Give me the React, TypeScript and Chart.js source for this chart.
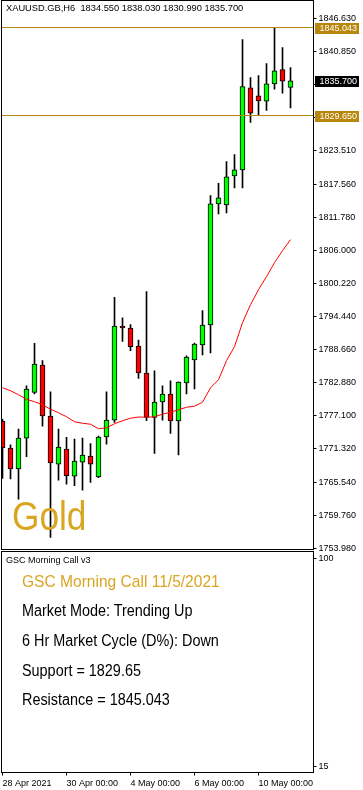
import React, { useEffect, useRef } from "react";
import { Chart, registerables } from "chart.js";

Chart.register(...registerables);

// ---------- data ----------
const symbolHeader = "XAUUSD.GB,H6  1834.550 1838.030 1830.990 1835.700";

// H6 candles, oldest first
const opens = [
  1776.14, 1771.48, 1767.81, 1773.23, 1781.21, 1786.01, 1777.08, 1768.68, 1771.31, 1766.58,
  1769.03, 1770.08, 1766.41, 1773.41, 1776.38, 1792.83, 1792.48, 1789.33, 1784.61, 1776.84,
  1779.53, 1780.93, 1776.21, 1782.86, 1786.88, 1789.51, 1793.01, 1814.18, 1814.01, 1819.08,
  1820.13, 1834.48, 1833.08, 1832.14, 1835.18, 1837.68, 1834.55,
];
const highs = [
  1776.5, 1772.06, 1774.81, 1782.38, 1789.78, 1786.76, 1781.33, 1774.81, 1773.34, 1773.06,
  1773.23, 1772.28, 1773.58, 1781.33, 1797.84, 1794.28, 1793.06, 1790.38, 1798.83, 1785.01,
  1782.38, 1783.26, 1783.08, 1787.63, 1789.86, 1795.51, 1815.63, 1817.79, 1821.58, 1822.81,
  1842.93, 1836.28, 1836.63, 1838.73, 1845.04, 1841.53, 1838.03,
];
const lows = [
  1766.16, 1766.06, 1762.56, 1769.96, 1780.93, 1775.33, 1755.84, 1765.88, 1765.18, 1764.88,
  1764.13, 1765.46, 1766.28, 1772.18, 1775.96, 1790.14, 1788.51, 1783.66, 1776.26, 1770.54,
  1776.38, 1774.04, 1770.26, 1780.93, 1781.81, 1787.76, 1788.11, 1812.43, 1812.61, 1816.98,
  1816.98, 1828.46, 1829.65, 1830.56, 1834.24, 1833.54, 1830.99,
];
const closes = [
  1771.53, 1767.81, 1773.23, 1781.81, 1786.18, 1777.08, 1768.86, 1771.66, 1766.63, 1769.21,
  1770.26, 1768.68, 1773.41, 1776.38, 1792.83, 1792.48, 1789.21, 1784.61, 1776.84, 1779.53,
  1780.93, 1776.21, 1783.03, 1787.41, 1789.68, 1793.01, 1814.18, 1815.23, 1818.91, 1820.13,
  1834.71, 1830.04, 1832.21, 1835.18, 1837.46, 1835.64, 1835.70,
];
// red moving average
const maValues = [
  1782.03, 1781.51, 1780.81, 1780.02, 1779.58, 1779.06, 1778.27, 1777.66, 1776.96, 1776.08,
  1775.82, 1775.65, 1774.86, 1775.03, 1775.73, 1776.26, 1776.70, 1776.91, 1776.87, 1776.96,
  1777.40, 1777.75, 1778.18, 1778.62, 1778.80, 1779.50, 1782.03, 1783.43, 1786.76, 1789.21,
  1793.41, 1796.56, 1799.18, 1801.46, 1803.91, 1806.01, 1807.93,
];

const resistance = 1845.043;
const support = 1829.65;
const lastPrice = 1835.7;

const priceTicks = [
  1753.98, 1759.76, 1765.54, 1771.32, 1777.1, 1782.88, 1788.66, 1794.44, 1800.22, 1806.0,
  1811.78, 1817.56, 1823.51, 1829.29, 1835.07, 1840.85, 1846.63,
];
const timeTickPositions = [0, 8, 16, 24, 32];
const timeTickLabels = ["28 Apr 2021", "30 Apr 00:00", "4 May 00:00", "6 May 00:00", "10 May 00:00"];
const panelTicks = [15, 100];

const panelTitle = "GSC Morning Call v3";
const callTitle = "GSC Morning Call 11/5/2021";
const callLines = [
  "Market Mode: Trending Up",
  "6 Hr Market Cycle (D%): Down",
  "Support = 1829.65",
  "Resistance = 1845.043",
];

// ---------- styling ----------
const FONT = "'Liberation Sans', Arial, sans-serif";
const GOLD_LINE = "#B8860B";
const GOLD_TEXT = "#DAA520";
const X_MIN = -0.125;
const X_MAX = 38.875;
const Y_MIN = 1753.736;
const Y_MAX = 1849.766;

const framePlugin = {
  id: "frame",
  afterDatasetsDraw(chart: any) {
    const { ctx, chartArea } = chart;
    ctx.save();
    ctx.strokeStyle = "#000";
    ctx.lineWidth = 1;
    ctx.strokeRect(chartArea.left, chartArea.top, chartArea.right - chartArea.left, chartArea.bottom - chartArea.top);
    ctx.restore();
  },
};

const priceBoxPlugin = {
  id: "priceBoxes",
  afterDraw(chart: any) {
    const { ctx } = chart;
    const ys = chart.scales.y;
    const boxes: [number, string][] = [
      [resistance, GOLD_LINE],
      [lastPrice, "#000000"],
      [support, GOLD_LINE],
    ];
    ctx.save();
    ctx.font = `9px ${FONT}`;
    ctx.textBaseline = "middle";
    ctx.textAlign = "left";
    for (const [v, col] of boxes) {
      const y = Math.round(ys.getPixelForValue(v));
      ctx.fillStyle = col;
      ctx.fillRect(315, y - 5, 44, 11);
      ctx.fillStyle = "#ffffff";
      ctx.fillText(v.toFixed(3), 319.5, y + 0.5);
    }
    ctx.restore();
  },
};

const fixWidth = (s: any) => {
  s.width = 49.5;
  s.paddingTop = 0;
  s.paddingBottom = 0;
  s.paddingLeft = 0;
  s.paddingRight = 0;
};

export default function App() {
  const mainRef = useRef<HTMLCanvasElement>(null);
  const lowRef = useRef<HTMLCanvasElement>(null);

  useEffect(() => {
    const idx = opens.map((_, i) => i);
    const main = new Chart(mainRef.current as HTMLCanvasElement, {
      type: "bar",
      data: {
        datasets: [
          {
            type: "line",
            label: "Resistance",
            data: [
              { x: X_MIN, y: resistance },
              { x: X_MAX, y: resistance },
            ],
            borderColor: GOLD_LINE,
            borderWidth: 1,
            pointRadius: 0,
            order: 0,
          } as any,
          {
            type: "line",
            label: "Support",
            data: [
              { x: X_MIN, y: support },
              { x: X_MAX, y: support },
            ],
            borderColor: GOLD_LINE,
            borderWidth: 1,
            pointRadius: 0,
            order: 0,
          } as any,
          {
            type: "line",
            label: "MA",
            data: maValues.map((v, i) => ({ x: i, y: v })),
            borderColor: "#FF0000",
            borderWidth: 1,
            pointRadius: 0,
            tension: 0,
            order: 1,
          } as any,
          {
            type: "bar",
            label: "Body",
            data: idx.map((i) => ({ x: i, y: [opens[i], closes[i]] })),
            backgroundColor: idx.map((i) => (closes[i] >= opens[i] ? "#00FF00" : "#FF0000")),
            borderColor: "#000000",
            borderWidth: 1,
            borderSkipped: false,
            barThickness: 5,
            grouped: false,
            clip: 0,
            order: 2,
          } as any,
          {
            type: "bar",
            label: "Wick",
            data: idx.map((i) => ({ x: i, y: [lows[i], highs[i]] })),
            backgroundColor: "#000000",
            borderWidth: 0,
            barThickness: 1,
            grouped: false,
            clip: 0,
            order: 3,
          } as any,
        ],
      },
      options: {
        animation: false,
        responsive: false,
        maintainAspectRatio: false,
        devicePixelRatio: 1,
        layout: { padding: { left: 1.5, top: 0.5, right: 0, bottom: 1.5 } },
        plugins: { legend: { display: false }, tooltip: { enabled: false } },
        scales: {
          x: { type: "linear", min: X_MIN, max: X_MAX, display: false, offset: false },
          y: {
            type: "linear",
            position: "right",
            min: Y_MIN,
            max: Y_MAX,
            afterBuildTicks: (s: any) => {
              s.ticks = priceTicks.map((v) => ({ value: v }));
            },
            afterFit: fixWidth,
            ticks: {
              autoSkip: false,
              padding: 2,
              color: "#000",
              font: { family: FONT, size: 9 },
              callback: (v: any) => Number(v).toFixed(3),
            },
            grid: { drawOnChartArea: false, drawTicks: true, tickLength: 3, color: "#000" },
            border: { display: true, color: "#000" },
          },
        },
      } as any,
      plugins: [framePlugin, priceBoxPlugin],
    });

    const low = new Chart(lowRef.current as HTMLCanvasElement, {
      type: "line",
      data: { datasets: [] },
      options: {
        animation: false,
        responsive: false,
        maintainAspectRatio: false,
        devicePixelRatio: 1,
        layout: { padding: { left: 1.5, top: 0.5, right: 0, bottom: 0 } },
        plugins: { legend: { display: false }, tooltip: { enabled: false } },
        scales: {
          x: {
            type: "linear",
            position: "bottom",
            min: X_MIN,
            max: X_MAX,
            offset: false,
            afterBuildTicks: (s: any) => {
              s.ticks = timeTickPositions.map((v) => ({ value: v }));
            },
            afterFit: (s: any) => {
              s.height = 17.5;
              s.paddingLeft = 0;
              s.paddingRight = 0;
            },
            ticks: {
              autoSkip: false,
              maxRotation: 0,
              minRotation: 0,
              align: "start",
              padding: 2.5,
              color: "#000",
              font: { family: FONT, size: 9 },
              callback: (v: any) => {
                const k = timeTickPositions.indexOf(Number(v));
                return k >= 0 ? timeTickLabels[k] : "";
              },
            },
            grid: { drawOnChartArea: false, drawTicks: true, tickLength: 3, color: "#000" },
            border: { display: true, color: "#000" },
          },
          y: {
            type: "linear",
            position: "right",
            min: 12.63,
            max: 102.77,
            afterBuildTicks: (s: any) => {
              s.ticks = panelTicks.map((v) => ({ value: v }));
            },
            afterFit: fixWidth,
            ticks: {
              autoSkip: false,
              padding: 2,
              color: "#000",
              font: { family: FONT, size: 9 },
              callback: (v: any) => String(v),
            },
            grid: { drawOnChartArea: false, drawTicks: true, tickLength: 3, color: "#000" },
            border: { display: true, color: "#000" },
          },
        },
      } as any,
      plugins: [framePlugin],
    });

    return () => {
      main.destroy();
      low.destroy();
    };
  }, []);

  const abs = (left: number, top: number, size: number, color: string, scaleX = 1): React.CSSProperties => ({
    position: "absolute",
    left,
    top,
    fontFamily: FONT,
    fontSize: size,
    lineHeight: 1,
    color,
    whiteSpace: "pre",
    transform: scaleX !== 1 ? `scaleX(${scaleX})` : undefined,
    transformOrigin: "left top",
    margin: 0,
  });

  return (
    <div style={{ position: "absolute", left: 0, top: 0, width: 363, height: 790, background: "#fff", overflow: "hidden" }}>
      <canvas ref={mainRef} width={363} height={551} style={{ position: "absolute", left: 0, top: 0, width: 363, height: 551 }} />
      <canvas ref={lowRef} width={363} height={239} style={{ position: "absolute", left: 0, top: 551, width: 363, height: 239 }} />
      <div style={abs(6, 3.8, 9.3, "#000")}>{symbolHeader}</div>
      <div style={abs(11.5, 495.6, 40, GOLD_TEXT, 0.88)}>Gold</div>
      <div style={abs(6, 556.4, 9, "#000")}>{panelTitle}</div>
      <div style={abs(21.5, 572.9, 17, GOLD_TEXT, 0.915)}>{callTitle}</div>
      {callLines.map((t, i) => (
        <div key={i} style={abs(21.5, 603.2 + i * 29.7, 16, "#000", 0.9)}>
          {t}
        </div>
      ))}
    </div>
  );
}
